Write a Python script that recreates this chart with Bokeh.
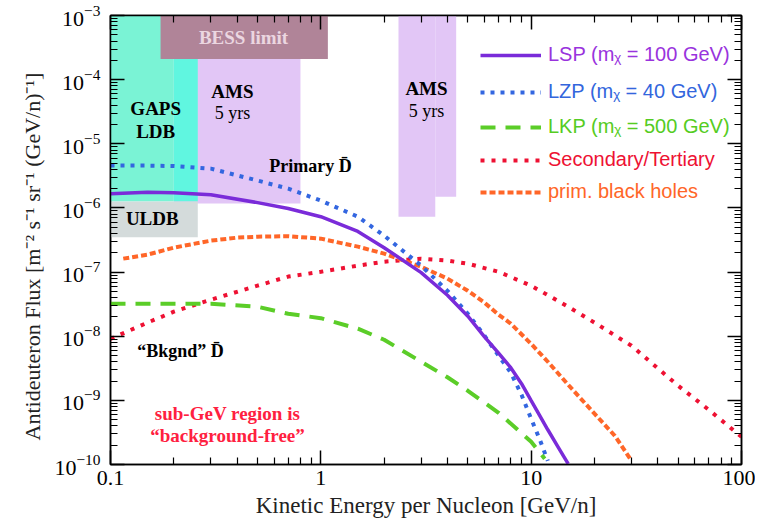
from bokeh.plotting import figure
from bokeh.models import (LogAxis, FixedTicker, LogTickFormatter, CustomJSTickFormatter,
                          Label, Legend, LegendItem)
from bokeh.embed import file_html
from bokeh.resources import INLINE

# ---------------- data ----------------
# LSP (m_chi = 100 GeV)
lsp_e = [0.1, 0.15, 0.2, 0.3, 0.5, 0.7, 1, 1.5, 2, 3, 4, 5, 6, 7, 8, 9, 10, 11, 12, 13.5, 15]
lsp_f = [1.67e-6, 1.76e-6, 1.73e-6, 1.61e-6, 1.21e-6, 9.8e-7, 7.3e-7, 4.3e-7, 2.40e-7,
         9.8e-8, 4.35e-8, 2.05e-8, 9.8e-9, 5.43e-9, 3.23e-9, 1.82e-9, 9.9e-10, 5.75e-10,
         3.48e-10, 1.82e-10, 1.02e-10]
# LZP (m_chi = 40 GeV)
lzp_e = [0.1, 0.15, 0.2, 0.3, 0.5, 0.7, 1, 1.5, 2, 3, 4, 5, 6, 7, 8, 9, 10, 11, 12]
lzp_f = [4.57e-6, 4.57e-6, 4.5e-6, 4.1e-6, 2.67e-6, 2.0e-6, 1.30e-6, 7.3e-7, 3.7e-7,
         1.26e-7, 5.1e-8, 2.24e-8, 1.02e-8, 4.97e-9, 2.70e-9, 1.22e-9, 5.16e-10, 2.43e-10,
         1.14e-10]
# LKP (m_chi = 500 GeV)
lkp_e = [0.1, 0.15, 0.2, 0.3, 0.5, 0.7, 1, 1.5, 2, 3, 4, 5, 7, 10, 11.6]
lkp_f = [3.21e-8, 3.21e-8, 3.21e-8, 3.21e-8, 2.88e-8, 2.24e-8, 1.91e-8, 1.31e-8, 8.8e-9,
         4.0e-9, 2.29e-9, 1.41e-9, 6.4e-10, 2.26e-10, 1.23e-10]
# Secondary / Tertiary background
sec_e = [0.1, 0.15, 0.2, 0.3, 0.5, 0.7, 1, 1.5, 2, 3, 4, 5, 7, 10, 15, 20, 30, 50, 70, 100]
sec_f = [9.1e-9, 1.63e-8, 2.41e-8, 3.71e-8, 6.13e-8, 8.5e-8, 1.01e-7, 1.26e-7, 1.45e-7,
         1.62e-7, 1.51e-7, 1.35e-7, 1.01e-7, 6.13e-8, 2.88e-8, 1.63e-8, 7.1e-9, 1.69e-9,
         7.1e-10, 2.7e-10]
# primordial black holes
pbh_e = [0.115, 0.15, 0.2, 0.3, 0.4, 0.5, 0.7, 1, 1.5, 2, 3, 4, 5, 6, 7, 8, 10, 12, 15,
         20, 25, 30]
pbh_f = [1.62e-7, 1.87e-7, 2.40e-7, 3.09e-7, 3.44e-7, 3.56e-7, 3.63e-7, 3.32e-7, 2.49e-7,
         1.94e-7, 1.21e-7, 7.9e-8, 5.1e-8, 3.33e-8, 2.16e-8, 1.57e-8, 7.6e-9, 4.0e-9,
         1.75e-9, 6.2e-10, 2.8e-10, 1.14e-10]

# sensitivity regions
ams_left = [0.2, 2.34, 3.5]
ams_right = [0.8, 3.5, 4.4]
ams_bottom = [1.17e-6, 7.3e-7, 1.5e-6]
ams_top = [1e-3, 1e-3, 1e-3]
gaps_left = [0.1, 0.2]
gaps_right = [0.2, 0.26]
gaps_bottom = [1.26e-6, 1.26e-6]
gaps_top = [1e-3, 1e-3]
uldb_left, uldb_right, uldb_bottom, uldb_top = [0.1], [0.26], [3.5e-7], [1.26e-6]
bess_left, bess_right, bess_bottom, bess_top = [0.173], [1.08], [2.1e-4], [1e-3]

x_major = [0.1, 1, 10, 100]
y_major = [10.0 ** k for k in range(-10, -2)]

SERIF = "Liberation Serif"
SANS = "Liberation Sans"

p = figure(width=755, height=522, x_axis_type="log", y_axis_type="log",
           x_range=(0.1, 100), y_range=(1e-10, 1e-3),
           output_backend="svg", toolbar_location=None,
           min_border_left=110, min_border_right=14, min_border_top=15, min_border_bottom=58)
p.xgrid.grid_line_color = None
p.ygrid.grid_line_color = None
p.outline_line_color = "black"
p.outline_line_width = 1.5
p.background_fill_color = "white"

xt = FixedTicker(ticks=x_major, minor_ticks=[m * 10.0 ** k for k in range(-1, 2) for m in range(2, 10)])
yt = FixedTicker(ticks=y_major, minor_ticks=[m * 10.0 ** k for k in range(-10, -3) for m in range(2, 10)])


def style(ax, labels=True):
    ax.axis_line_color = "black"
    ax.axis_line_width = 1.5
    ax.major_tick_in = 14
    ax.major_tick_out = 0
    ax.minor_tick_in = 7
    ax.minor_tick_out = 0
    ax.major_tick_line_width = 1.5
    ax.minor_tick_line_width = 1.2
    ax.major_tick_line_color = "black"
    ax.minor_tick_line_color = "black"
    if not labels:
        ax.major_label_text_font_size = "1px"
        ax.major_label_standoff = 0
        ax.formatter = CustomJSTickFormatter(code="return '';")


xa = p.xaxis[0]
ya = p.yaxis[0]
xa.ticker = xt
ya.ticker = yt
xa.formatter = CustomJSTickFormatter(code="return tick < 1 ? tick.toFixed(1) : tick.toFixed(0);")
ya.formatter = LogTickFormatter()
style(xa)
style(ya)
for ax in (xa, ya):
    ax.major_label_text_font = SERIF
    ax.major_label_text_font_size = "22px"
    ax.major_label_text_color = "black"
    ax.axis_label_text_font = SERIF
    ax.axis_label_text_font_style = "normal"
    ax.axis_label_text_color = "#222222"
xa.axis_label_text_font_size = "23px"
ya.axis_label_text_font_size = "22px"
xa.major_label_standoff = 6
ya.major_label_standoff = 10
xa.axis_label = "Kinetic Energy per Nucleon [GeV/n]"
ya.axis_label = ("Antideuteron Flux [m\u207b\u00b2 s\u207b\u00b9 sr\u207b\u00b9 (GeV/n)\u207b\u00b9]"
                 "\u2002\u2002\u2002")
xa.axis_label_standoff = 5
ya.axis_label_standoff = 6

top_ax = LogAxis(ticker=xt)
right_ax = LogAxis(ticker=yt)
style(top_ax, labels=False)
style(right_ax, labels=False)
p.add_layout(top_ax, "above")
p.add_layout(right_ax, "right")

# ---------------- regions ----------------
p.quad(left=ams_left, right=ams_right, bottom=ams_bottom, top=ams_top,
       fill_color="#E2C6F6", line_color=None)
p.quad(left=gaps_left, right=gaps_right, bottom=gaps_bottom, top=gaps_top,
       fill_color=["#7AF3D5", "#60F6E0"], line_color=None)
p.quad(left=uldb_left, right=uldb_right, bottom=uldb_bottom, top=uldb_top,
       fill_color="#D4DBDB", line_color=None)
p.quad(left=bess_left, right=bess_right, bottom=bess_bottom, top=bess_top,
       fill_color="#B08498", line_color=None)

# ---------------- curves ----------------
r_sec = p.line(sec_e, sec_f, line_color="#EE1133", line_width=4, line_dash="4 7")
r_lkp = p.line(lkp_e, lkp_f, line_color="#5BCD28", line_width=4, line_dash="15 10")
r_pbh = p.line(pbh_e, pbh_f, line_color="#FF6628", line_width=4, line_dash="6 3")
r_lzp = p.line(lzp_e, lzp_f, line_color="#3366E0", line_width=4, line_dash="4 6")
r_lsp = p.line(lsp_e, lsp_f, line_color="#7A2BD9", line_width=3.5)

# ---------------- legend ----------------
legend_rows = [
    ("LSP (m\u1d6a = 100 GeV)", r_lsp, "#9933DD", 398),
    ("LZP (m\u1d6a = 40 GeV)", r_lzp, "#3366DD", 361),
    ("LKP (m\u1d6a = 500 GeV)", r_lkp, "#55CC22", 326),
    ("Secondary/Tertiary", r_sec, "#EE1133", 293),
    ("prim. black holes", r_pbh, "#FF6628", 261),
]
for lab, rend, col, yy in legend_rows:
    leg = Legend(items=[LegendItem(label=lab, renderers=[rend])], location=(370, yy),
                 glyph_width=61, glyph_height=22, label_standoff=7, padding=0, margin=0,
                 spacing=0, border_line_alpha=0, background_fill_alpha=0,
                 label_text_font=SANS, label_text_font_size="20px", label_text_color=col,
                 label_height=22)
    p.add_layout(leg)

# ---------------- annotations ----------------
def lab(x, y, t, size="19px", color="black", style_="bold", font=SERIF):
    p.add_layout(Label(x=x, y=y, text=t, text_font=font, text_font_size=size,
                       text_color=color, text_font_style=style_, text_align="center",
                       text_baseline="middle"))


lab(0.429, 4.5e-4, "BESS limit", color="#EBD6E0")
lab(0.164, 3.54e-5, "GAPS")
lab(0.164, 1.55e-5, "LDB")
lab(0.38, 6.5e-5, "AMS")
lab(0.38, 3.07e-5, "5 yrs", size="18px", style_="normal")
lab(3.18, 7.3e-5, "AMS")
lab(3.18, 3.3e-5, "5 yrs", size="18px", style_="normal")
lab(0.158, 6.8e-7, "ULDB")
lab(0.893, 4.57e-6, "Primary D\u0304", size="18px")
lab(0.215, 5.9e-9, "\u201cBkgnd\u201d D\u0304", size="18px")
lab(0.36, 6.2e-10, "sub-GeV region is", color="#FF2040")
lab(0.36, 2.8e-10, "\u201cbackground-free\u201d", color="#FF2040")

open("out.html", "w").write(file_html(p, INLINE))
